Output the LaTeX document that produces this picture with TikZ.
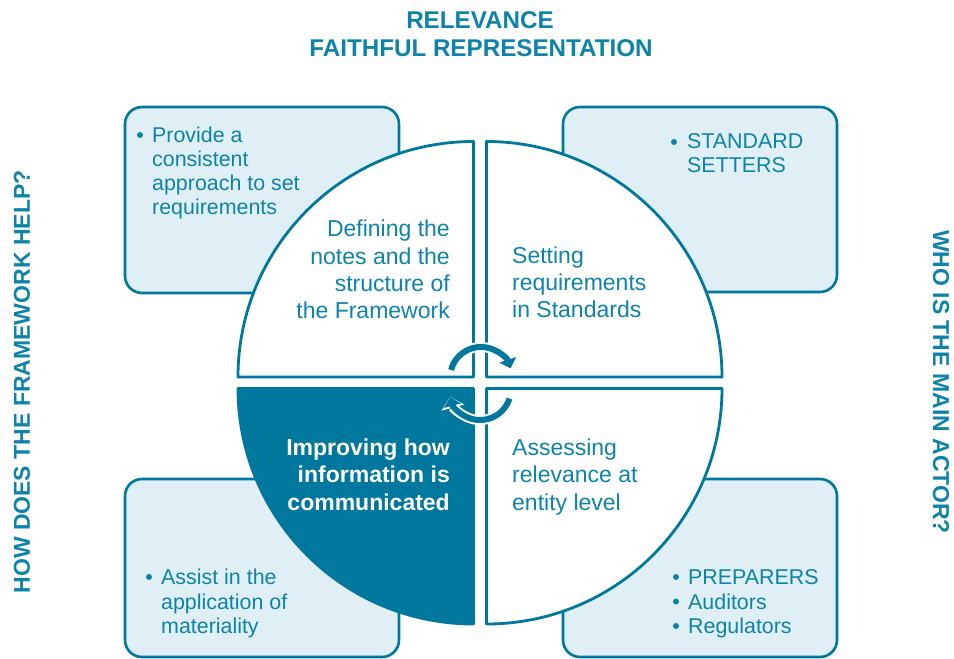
\documentclass[tikz,border=0pt]{standalone}
\usepackage{fontspec}
\setmainfont{Liberation Sans}
\usetikzlibrary{arrows.meta}
\definecolor{tealline}{RGB}{0,120,157}
\definecolor{tealtext}{RGB}{14,131,170}
\definecolor{boxfill}{RGB}{224,238,245}
\begin{document}
\begin{tikzpicture}[x=1pt,y=1pt,
  panel/.style={draw=tealline, line width=2.6pt, fill=boxfill, rounded corners=17pt,
    minimum width=274pt, minimum height=#1, inner sep=0pt},
  quad/.style={draw=tealline, line width=2.8pt, line join=round},
  qtext/.style={font=\fontsize{23}{27}\selectfont, text=tealtext, inner sep=0pt},
  qbold/.style={font=\bfseries\fontsize{23}{27}\selectfont, text=white, inner sep=0pt},
  btext/.style={font=\fontsize{21.4}{24}\selectfont, text=tealtext, inner sep=0pt, anchor=base west},
  bul/.style={circle, fill=tealtext, inner sep=0pt, minimum size=6pt},
  head/.style={font=\bfseries\fontsize{23}{27}\selectfont, text=tealtext, inner sep=0pt},
  title/.style={font=\bfseries\fontsize{24.2}{28}\selectfont, text=tealtext, inner sep=0pt},
  cyc/.style={line width=6pt, draw=tealline, -{Triangle[length=9pt,width=17pt]}},
  cycback/.style={line width=10pt, draw=white, -{Triangle[length=11pt,width=23pt]}},
]
\useasboundingbox (0,0) rectangle (954,659);

% headings
\node[title, anchor=base] (t1) at (480,630) {RELEVANCE};
\node[title, anchor=base] (t2) at (481,602) {FAITHFUL REPRESENTATION};
\node[head, rotate=90, anchor=base] (sl) at (30,277) {HOW DOES THE FRAMEWORK HELP?};
\node[head, rotate=-90, anchor=base] (sr) at (933,277) {WHO IS THE MAIN ACTOR?};

% panels
\node[panel=186pt] (ptl) at (262,459) {};
\node[panel=185pt] (ptr) at (700,459.5) {};
\node[panel=178pt] (pbl) at (262,91) {};
\node[panel=178pt] (pbr) at (700,91) {};

% quadrants
\draw[quad, fill=white] (473.5,282) -- (238,282) arc[start angle=180,end angle=90,radius=235.5] -- cycle;
\draw[quad, fill=white] (486.5,282) -- (486.5,517.5) arc[start angle=90,end angle=0,radius=235.5] -- cycle;
\draw[quad, fill=tealline] (473.5,270.5) -- (238,270.5) arc[start angle=180,end angle=270,radius=235.5] -- cycle;
\draw[quad, fill=white] (486.5,270.5) -- (722,270.5) arc[start angle=0,end angle=-90,radius=235.5] -- cycle;

% quadrant texts
\foreach \t [count=\i] in {Defining the, notes and the, structure of, the Framework}
  \node[qtext, anchor=base east] (qa\i) at (450,{449.3-27.3*\i}) {\t};
\foreach \t [count=\i] in {Setting, requirements, in Standards}
  \node[qtext, anchor=base west] (qb\i) at (512,{422-27*\i}) {\t};
\foreach \t [count=\i] in {Improving how, information is, communicated}
  \node[qbold, anchor=base east] (qc\i) at (450,{231.3-27.5*\i}) {\t};
\foreach \t [count=\i] in {Assessing, relevance at, entity level}
  \node[qtext, anchor=base west] (qd\i) at (512,{231.3-27.5*\i}) {\t};

% panel texts
\node[bul] (ba) at (140,524) {};
\foreach \t [count=\i] in {Provide a, consistent, approach to set, requirements}
  \node[btext] (pa\i) at (152,{540-24*\i}) {\t};
\node[bul] (bb) at (674,517) {};
\foreach \t [count=\i] in {STANDARD, SETTERS}
  \node[btext] (pb\i) at (687,{534-24*\i}) {\t};
\node[bul] (bc) at (149,82) {};
\foreach \t [count=\i] in {Assist in the, application of, materiality}
  \node[btext] (pc\i) at (161,{98.5-24.5*\i}) {\t};
\foreach \t [count=\i] in {PREPARERS, Auditors, Regulators}{
  \node[btext] (pd\i) at (688,{98.5-24.5*\i}) {\t};
  \node[bul] (bd\i) at (676,{106.5-24.5*\i}) {};
}

% cycle arrows
\coordinate (ct) at (481,281);
\coordinate (cb) at (480,270);
\draw[cycback] (ct) ++(165:31) arc[start angle=165,end angle=18,radius=31];
\draw[cyc] (ct) ++(165:31) arc[start angle=165,end angle=18,radius=31];
\draw[cycback] (cb) ++(-18:31) arc[start angle=-18,end angle=-165,radius=31];
\draw[cyc] (cb) ++(-18:31) arc[start angle=-18,end angle=-165,radius=31];
\end{tikzpicture}
\end{document}
